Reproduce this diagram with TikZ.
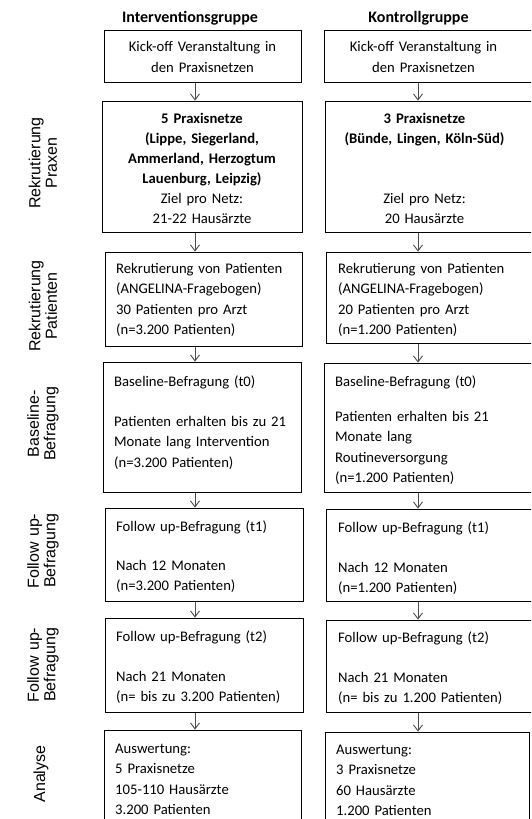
\documentclass[tikz,border=0pt]{standalone}
\usepackage{fontspec}
\setmainfont{Carlito}
\newfontfamily\labelfont{Liberation Sans}
\usetikzlibrary{arrows.meta}

\begin{document}
\begin{tikzpicture}[x=1pt,y=-1pt,
  box/.style={draw=black, line width=1pt, inner sep=0pt, anchor=north west},
  arr/.style={draw=black!70, line width=0.9pt, shorten >=0.4pt,
              -{Straight Barb[length=6pt,width=9pt,line width=0.9pt]}},
  ltxt/.style={inner sep=0pt, anchor=base west, align=left, text width=185pt,
               font=\fontsize{14.67}{20.3}\selectfont, text=black},
  ctxt/.style={inner sep=0pt, anchor=base, align=center, text width=195pt,
               font=\fontsize{14.67}{20}\selectfont, text=black},
  head/.style={inner sep=0pt, anchor=base, font=\fontsize{16}{19}\selectfont\bfseries},
  side/.style={inner sep=0pt, anchor=center, align=center, text width=110pt, rotate=90,
               font=\labelfont\fontsize{16}{16.5}\selectfont},
]
\useasboundingbox (0,0) rectangle (531,819);
\clip (0,0) rectangle (531,819);

% column headings
\node[head] (hI) at (190,22) {Interventionsgruppe};
\node[head] (hK) at (418.5,22) {Kontrollgruppe};

% phase labels on the left
\node[side] (s1) at (43,163) {Rekrutierung\\Praxen};
\node[side] (s2) at (43,306) {Rekrutierung\\Patienten};
\node[side] (s3) at (43,424) {Baseline-\\Befragung};
\node[side] (s4) at (43,551) {Follow up-\\Befragung};
\node[side] (s5) at (43,665) {Follow up-\\Befragung};
\node[side] (s6) at (41,774) {Analyse};

% intervention column
\node[box, minimum width=197pt, minimum height=52pt]  (L1) at (104,30)  {};
\node[box, minimum width=200pt, minimum height=131pt] (L2) at (102,101) {};
\node[box, minimum width=197pt, minimum height=94pt]  (L3) at (105,252) {};
\node[box, minimum width=198pt, minimum height=130pt] (L4) at (103,362) {};
\node[box, minimum width=198pt, minimum height=93pt]  (L5) at (105,508) {};
\node[box, minimum width=198pt, minimum height=94pt]  (L6) at (105,618) {};
\node[box, minimum width=197pt, minimum height=100pt] (L7) at (104,730) {};

% control column
\node[box, minimum width=211pt, minimum height=52pt]  (R1) at (324,30)  {};
\node[box, minimum width=210pt, minimum height=131pt] (R2) at (325,101) {};
\node[box, minimum width=209pt, minimum height=91pt]  (R3) at (326,252) {};
\node[box, minimum width=211pt, minimum height=129pt] (R4) at (324,363) {};
\node[box, minimum width=209pt, minimum height=92pt]  (R5) at (326,509) {};
\node[box, minimum width=209pt, minimum height=92pt]  (R6) at (326,620) {};
\node[box, minimum width=204pt, minimum height=100pt] (R7) at (325,732) {};

% box texts, intervention column
\node[ctxt, font=\fontsize{14.67}{21}\selectfont] (L1t) at (202.5,51.5)
  {Kick-off Veranstaltung in\\den Praxisnetzen};
\node[ctxt] (L2t) at (202,123.5)
  {{\bfseries 5 Praxisnetze\\(Lippe, Siegerland,\\Ammerland, Herzogtum\\Lauenburg, Leipzig)}\\Ziel pro Netz:\\21-22 Hausärzte};
\node[ltxt] (L3t) at (116,273.5)
  {Rekrutierung von Patienten\\(ANGELINA-Fragebogen)\\30 Patienten pro Arzt\\(n=3.200 Patienten)};
\node[ltxt] (L4t) at (114,386.5)
  {Baseline-Befragung (t0)\\[19.7pt]Patienten erhalten bis zu 21\\Monate lang Intervention\\(n=3.200 Patienten)};
\node[ltxt] (L5t) at (116,531.5)
  {Follow up-Befragung (t1)\\[18.7pt]Nach 12 Monaten\\(n=3.200 Patienten)};
\node[ltxt] (L6t) at (116,641.5)
  {Follow up-Befragung (t2)\\[19.7pt]Nach 21 Monaten\\(n= bis zu 3.200 Patienten)};
\node[ltxt] (L7t) at (115,753.5)
  {Auswertung:\\5 Praxisnetze\\105-110 Hausärzte\\3.200 Patienten};

% box texts, control column
\node[ctxt, font=\fontsize{14.67}{21}\selectfont] (R1t) at (423.5,51.5)
  {Kick-off Veranstaltung in\\den Praxisnetzen};
\node[ctxt] (R2t) at (424.5,123.5)
  {{\bfseries 3 Praxisnetze\\(Bünde, Lingen, Köln-Süd)}\\[40pt]Ziel pro Netz:\\20 Hausärzte};
\node[ltxt] (R3t) at (338,273.5)
  {Rekrutierung von Patienten\\(ANGELINA-Fragebogen)\\20 Patienten pro Arzt\\(n=1.200 Patienten)};
\node[ltxt] (R4t) at (335,386.5)
  {Baseline-Befragung (t0)\\[14.7pt]Patienten erhalten bis 21\\Monate lang\\Routineversorgung\\(n=1.200 Patienten)};
\node[ltxt] (R5t) at (338,532.5)
  {Follow up-Befragung (t1)\\[19.7pt]Nach 12 Monaten\\(n=1.200 Patienten)};
\node[ltxt] (R6t) at (338,642.5)
  {Follow up-Befragung (t2)\\[19.7pt]Nach 21 Monaten\\(n= bis zu 1.200 Patienten)};
\node[ltxt] (R7t) at (336,754.5)
  {Auswertung:\\3 Praxisnetze\\60 Hausärzte\\1.200 Patienten};

% arrows between the phases
\coordinate (ax) at (195,0);
\coordinate (bx) at (418,0);
\foreach \a/\b in {L1/L2,L2/L3,L3/L4,L4/L5,L5/L6,L6/L7}
  \draw[arr] (\a.south -| ax) -- (\b.north -| ax);
\foreach \a/\b in {R1/R2,R2/R3,R3/R4,R4/R5,R5/R6,R6/R7}
  \draw[arr] (\a.south -| bx) -- (\b.north -| bx);
\end{tikzpicture}
\end{document}
